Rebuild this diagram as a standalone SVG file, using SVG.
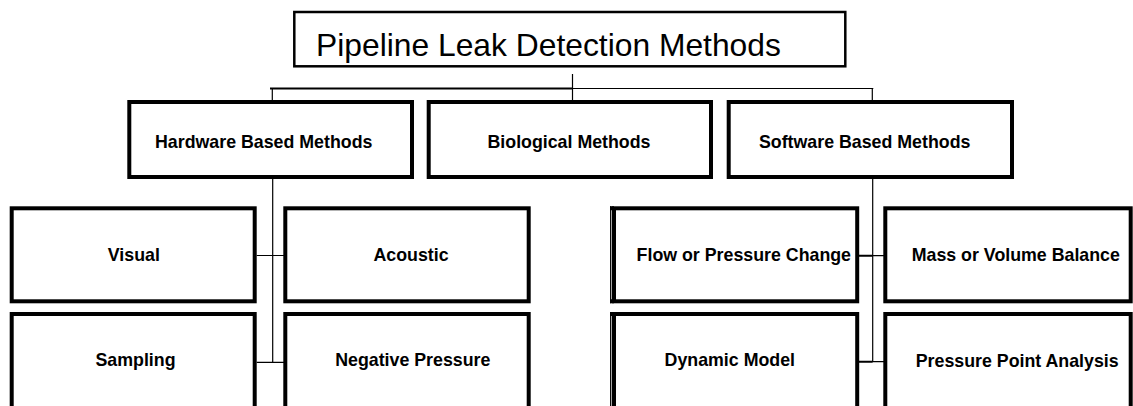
<svg xmlns="http://www.w3.org/2000/svg" width="1133" height="406" viewBox="0 0 1133 406">
<style>
.box{fill:#fff;stroke:#000;stroke-width:4}
.tbox{fill:#fff;stroke:#000;stroke-width:2.5}
.lbl{font-family:"Liberation Sans",Arial,sans-serif;font-weight:bold;font-size:17.8px;fill:#000;text-anchor:middle}
.ttl{font-family:"Liberation Sans",Arial,sans-serif;font-size:31.8px;fill:#000}
.c{fill:none;stroke:#000;stroke-width:1.2}
.ct{fill:none;stroke:#000;stroke-width:2}
</style>
<rect width="1133" height="406" fill="#fff"/>
<g id="connectors">
<path class="c" d="M572.5 74V101"/>
<path class="ct" d="M270 88.5H572.5"/>
<path class="c" d="M572.5 88.5H873.3"/>
<path class="c" d="M272.3 88.5V101"/>
<path class="c" d="M872.3 88.5V101"/>
<path class="c" d="M272.7 179V362.3"/>
<path class="c" d="M256.7 255.5H284M256.7 362.3H284"/>
<path class="c" d="M872.7 179V362"/>
<path class="ct" d="M859 255.7H872.7M859 361.7H872.7"/>
<path class="c" d="M872.7 255.7H884M872.7 361.7H884"/>
</g>
<g id="title">
<rect class="tbox" x="294.3" y="12" width="551" height="54.3"/>
<text class="ttl" x="316" y="56">Pipeline Leak Detection Methods</text>
</g>
<g id="hardware">
<rect class="box" x="129.3" y="102" width="282.7" height="75"/>
<text class="lbl" x="263.7" y="147.5">Hardware Based Methods</text>
</g>
<g id="biological">
<rect class="box" x="428.7" y="102" width="282.3" height="75"/>
<text class="lbl" x="569" y="147.5">Biological Methods</text>
</g>
<g id="software">
<rect class="box" x="728.7" y="102" width="283.3" height="75"/>
<text class="lbl" x="864.7" y="147.5">Software Based Methods</text>
</g>
<g id="visual">
<rect class="box" x="11.7" y="208.3" width="243" height="93"/>
<text class="lbl" x="133.8" y="261">Visual</text>
</g>
<g id="acoustic">
<rect class="box" x="285.3" y="208.3" width="243.4" height="93"/>
<text class="lbl" x="411" y="261">Acoustic</text>
</g>
<g id="sampling">
<rect class="box" x="11.7" y="314" width="243" height="100"/>
<text class="lbl" x="135.5" y="365.5">Sampling</text>
</g>
<g id="negative-pressure">
<rect class="box" x="285.3" y="314" width="243.4" height="100"/>
<text class="lbl" x="412.8" y="365.5">Negative Pressure</text>
</g>
<g id="flow">
<rect class="box" x="614" y="208.3" width="243.2" height="93"/>
<path fill="none" stroke="#000" stroke-width="1.3" d="M610.7 206.3V303.3"/>
<path fill="none" stroke="#000" stroke-width="4" d="M610 208.3H614M610 301.3H614"/>
<text class="lbl" x="743.8" y="261">Flow or Pressure Change</text>
</g>
<g id="mass">
<rect class="box" x="885.3" y="208.3" width="245.4" height="93"/>
<text class="lbl" x="1015.8" y="261">Mass or Volume Balance</text>
</g>
<g id="dynamic">
<rect class="box" x="614" y="314" width="243.2" height="100"/>
<path fill="none" stroke="#000" stroke-width="1.3" d="M610.7 312V406"/>
<path fill="none" stroke="#000" stroke-width="4" d="M610 314H614"/>
<text class="lbl" x="729.8" y="366">Dynamic Model</text>
</g>
<g id="ppa">
<rect class="box" x="885.3" y="314" width="245.4" height="100"/>
<text class="lbl" x="1017.2" y="366.5">Pressure Point Analysis</text>
</g>
</svg>
